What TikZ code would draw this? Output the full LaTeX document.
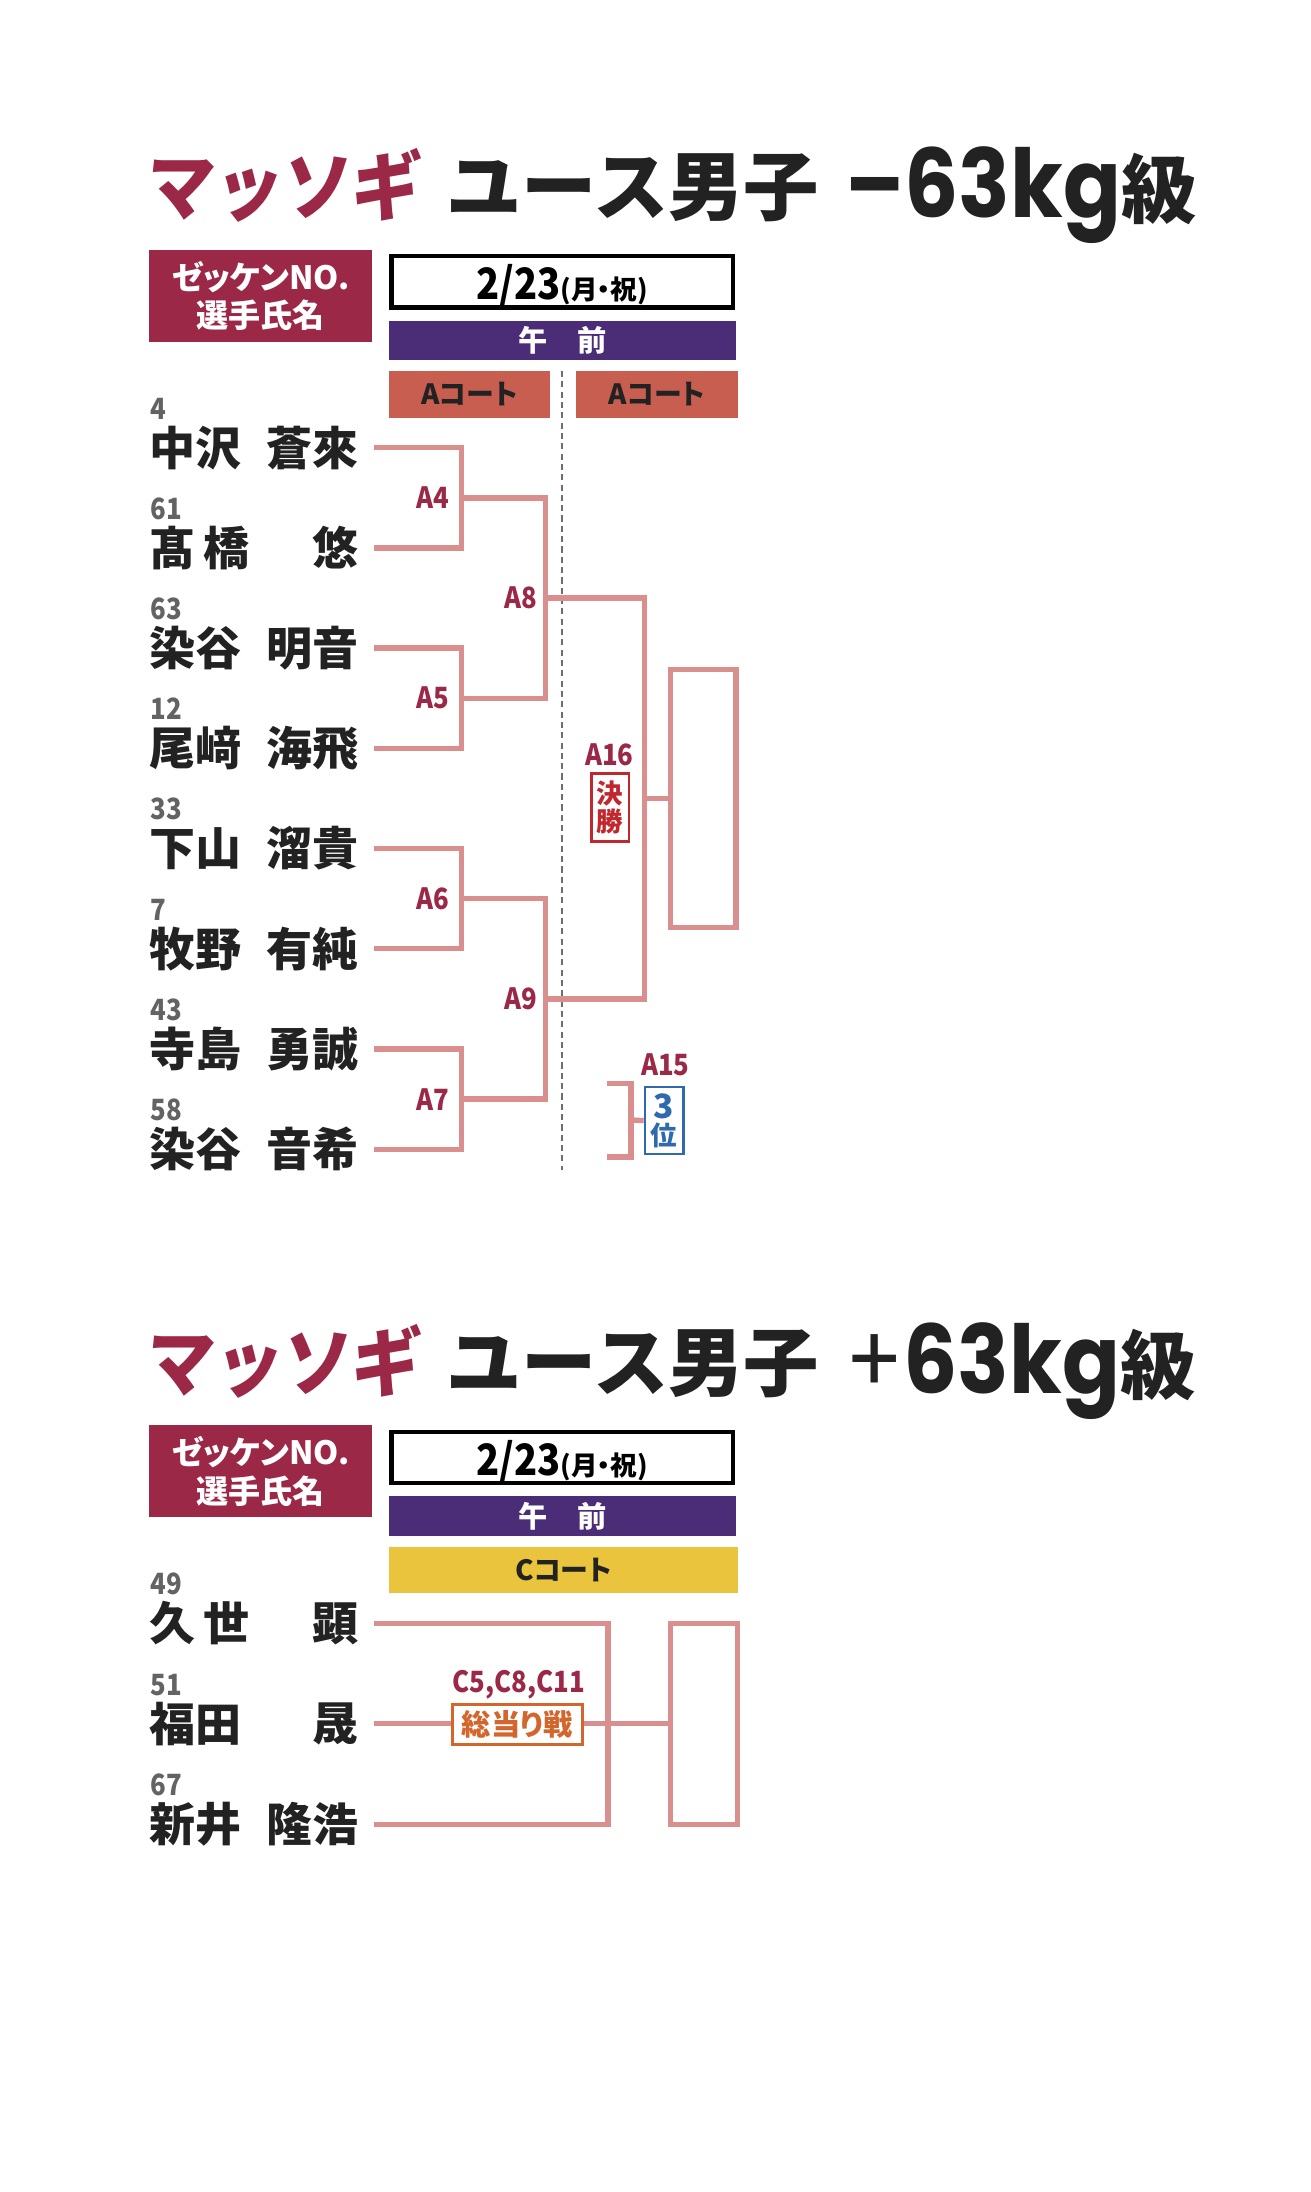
\documentclass[tikz,border=0pt]{standalone}
\usepackage{fontspec}
\setmainfont{Noto Sans CJK JP}
\newfontfamily\jp{Noto Sans CJK JP}
\newfontfamily\jpc{Noto Sans CJK JP}[FakeStretch=0.88]
\newfontfamily\jpp{Noto Sans CJK JP}[RawFeature=+palt]
\newfontfamily\jps{Noto Sans CJK JP}[FakeSlant=0.1,FakeStretch=0.91]
\newfontfamily\pop{Poppins}[FakeStretch=0.9]
\newcommand\fsz[1]{\fontsize{#1}{#1}\selectfont}
\definecolor{crim}{HTML}{9C2847}
\definecolor{purp}{HTML}{4B2D77}
\definecolor{courtA}{HTML}{C75E50}
\definecolor{courtC}{HTML}{EAC43C}
\definecolor{brk}{HTML}{D98F8E}
\definecolor{numg}{HTML}{636363}
\definecolor{ink}{HTML}{222222}
\definecolor{winr}{HTML}{C1282E}
\definecolor{thirdb}{HTML}{2F6AAE}
\definecolor{rrobin}{HTML}{D2662C}
\definecolor{dgray}{HTML}{6E6E6E}
\begin{document}
\begin{tikzpicture}[x=0.5pt,y=-0.5pt,
  lbl/.style={inner sep=0pt,outer sep=0pt},
  ttlA/.style={lbl,anchor=base west,text=crim,font=\jps\bfseries\fsz{27pt}},
  ttlB/.style={lbl,anchor=base west,text=ink,font=\jp\bfseries\fsz{27pt}},
  hdrbox/.style={lbl,fill=crim,text=white,anchor=north west,minimum width=80pt,minimum height=33pt,align=center,font={\jpp\bfseries\fontsize{11.5pt}{13.75pt}\selectfont}},
  datebox/.style={draw=black,line width=1.6pt,inner sep=0pt,minimum width=122.4pt,minimum height=18.4pt},
  datetxt/.style={lbl,anchor=base,text=black},
  ambar/.style={lbl,fill=purp,text=white,minimum width=124.5pt,minimum height=14pt,font=\jp\bfseries\fsz{10.5pt}},
  courtbox/.style={lbl,text=ink,minimum height=16.75pt,font=\jpp\bfseries\fsz{10pt}},
  numtxt/.style={lbl,anchor=base west,text=numg,font=\jpc\bfseries\fsz{10.5pt}},
  nmtxt/.style={lbl,text=ink,font=\jp\bfseries\fsz{16.5pt}},
  mlab/.style={lbl,text=crim,font=\jpc\bfseries\fsz{10.5pt}},
  brk/.style={draw=brk,line width=1.9pt},
  finbox/.style={draw=brk,line width=1.9pt,inner sep=0pt,minimum width=23.5pt},
  dsh/.style={draw=dgray,line width=1pt,dash pattern=on 2.2pt off 1.5pt},
  tagbox/.style={fill=white,line width=0.9pt,inner sep=0pt,align=center,font={\jp\bfseries\fontsize{9.5pt}{9.8pt}\selectfont}}
]
\useasboundingbox[fill=white] (0,0) rectangle (940,1571.7);

%% ================= TOP SECTION =================
\node[ttlA] (t1a) at (103,154) {マッソギ};
\node[ttlB] (t1b) at (320,154) {ユース男子};
\node[ttlB] (t1c) at (606,156) {{\pop\bfseries\fsz{34pt}–63kg}{\jp 級}};

\node[hdrbox] (h1) at (107,179) {ゼッケンNO.\\選手氏名};
\node[datebox] (d1) at (403,202) {};
\node[datetxt] (d1t) at (403,214.6) {{\jpc\bfseries\fsz{15.5pt}2/23}{\jpp\bfseries\fsz{9.5pt}(月・祝)}};
\node[ambar] (am1) at (403.5,244) {午　前};
\node[courtbox,fill=courtA,minimum width=57.5pt] (ca1) at (336.5,282.75) {Aコート};
\node[courtbox,fill=courtA,minimum width=58pt] (ca2) at (471,282.75) {Aコート};

\coordinate (dtop) at (403,266);
\coordinate (dbot) at (403,839);
\draw[dsh] (dtop) -- (dbot);

\foreach \i/\num/\fam/\giv/\yy in {
  1/4/中沢/蒼來/321,
  2/61/髙\hspace{3pt}橋/悠/392.9,
  3/63/染谷/明音/464.7,
  4/12/尾﨑/海飛/536.6,
  5/33/下山/溜貴/608.4,
  6/7/牧野/有純/680.3,
  7/43/寺島/勇誠/752.2,
  8/58/染谷/音希/824}{
  \node[numtxt] (no\i) at (108,\yy-20.5) {\num};
  \node[nmtxt,anchor=west] (fa\i) at (107,\yy) {\fam};
  \node[nmtxt,anchor=east] (gv\i) at (257,\yy) {\giv};
  \coordinate (s\i) at (268,\yy);
}

\coordinate (a4) at (331,357);
\coordinate (a5) at (331,500.6);
\coordinate (a6) at (331,644.4);
\coordinate (a7) at (331,788.1);
\coordinate (a8) at (391,428.8);
\coordinate (a9) at (391,716.2);
\coordinate (a16) at (462,572.5);

\node[finbox,minimum height=92.7pt] (fin) at (504.3,572.5) {};

\draw[brk] (s1) -| (a4) |- (s2);
\draw[brk] (s3) -| (a5) |- (s4);
\draw[brk] (s5) -| (a6) |- (s6);
\draw[brk] (s7) -| (a7) |- (s8);
\draw[brk] (a4) -| (a8) |- (a5);
\draw[brk] (a6) -| (a9) |- (a7);
\draw[brk] (a8) -| (a16) |- (a9);
\draw[brk] (a16) -- (fin.west);

\node[mlab,anchor=east] (la4) at (322,357) {A4};
\node[mlab,anchor=east] (la5) at (322,500.6) {A5};
\node[mlab,anchor=east] (la6) at (322,644.4) {A6};
\node[mlab,anchor=east] (la7) at (322,788.1) {A7};
\node[mlab,anchor=east] (la8) at (385,428.8) {A8};
\node[mlab,anchor=east] (la9) at (385,716.2) {A9};
\node[mlab] (la16) at (437,541) {A16};
\node[tagbox,draw=winr,text=winr,minimum width=13.5pt,minimum height=24.5pt] (win) at (437.5,579) {決\\勝};

\coordinate (q1) at (435,777);
\coordinate (q2) at (435,829.5);
\coordinate (a15) at (452.5,803);
\node[tagbox,draw=thirdb,text=thirdb,minimum width=13.8pt,minimum height=24pt] (third) at (476.2,803.5) {{\fsz{12pt}3}\\位};
\draw[brk] (q1) -| (a15) |- (q2);
\draw[brk] (a15) -- (third.west);
\node[mlab] (la15) at (477,763.6) {A15};

%% ================= BOTTOM SECTION =================
\node[ttlA] (t2a) at (103,997) {マッソギ};
\node[ttlB] (t2b) at (320,997) {ユース男子};
\node[ttlB] (t2c) at (606,999) {{\pop\mdseries\fsz{34pt}+}{\pop\bfseries\fsz{34pt}63kg}{\jp 級}};

\node[hdrbox] (h2) at (107,1022) {ゼッケンNO.\\選手氏名};
\node[datebox] (d2) at (403,1045) {};
\node[datetxt] (d2t) at (403,1057.6) {{\jpc\bfseries\fsz{15.5pt}2/23}{\jpp\bfseries\fsz{9.5pt}(月・祝)}};
\node[ambar] (am2) at (403.5,1087) {午　前};
\node[courtbox,fill=courtC,minimum width=125pt] (cc) at (404,1125.75) {Cコート};

\foreach \i/\num/\fam/\giv/\yy in {
  9/49/久\hspace{3pt}世/顕/1164,
  10/51/福田/晟/1236,
  11/67/新井/隆浩/1308}{
  \node[numtxt] (no\i) at (108,\yy-20.5) {\num};
  \node[nmtxt,anchor=west] (fa\i) at (107,\yy) {\fam};
  \node[nmtxt,anchor=east] (gv\i) at (257,\yy) {\giv};
  \coordinate (s\i) at (268,\yy);
}

\coordinate (v) at (436,1236);
\node[finbox,minimum width=24pt,minimum height=72pt] (fin2) at (504.8,1236) {};
\draw[brk] (s9) -| (v) |- (s11);
\draw[brk] (s10) -- (fin2.west);
\node[tagbox,draw=rrobin,text=rrobin,minimum width=46.5pt,minimum height=14.5pt,font=\jpp\bfseries\fsz{10.5pt}] (rr) at (371,1236.5) {総当り戦};
\node[mlab] (lrr) at (372,1208) {C5,C8,C11};
\end{tikzpicture}
\end{document}
